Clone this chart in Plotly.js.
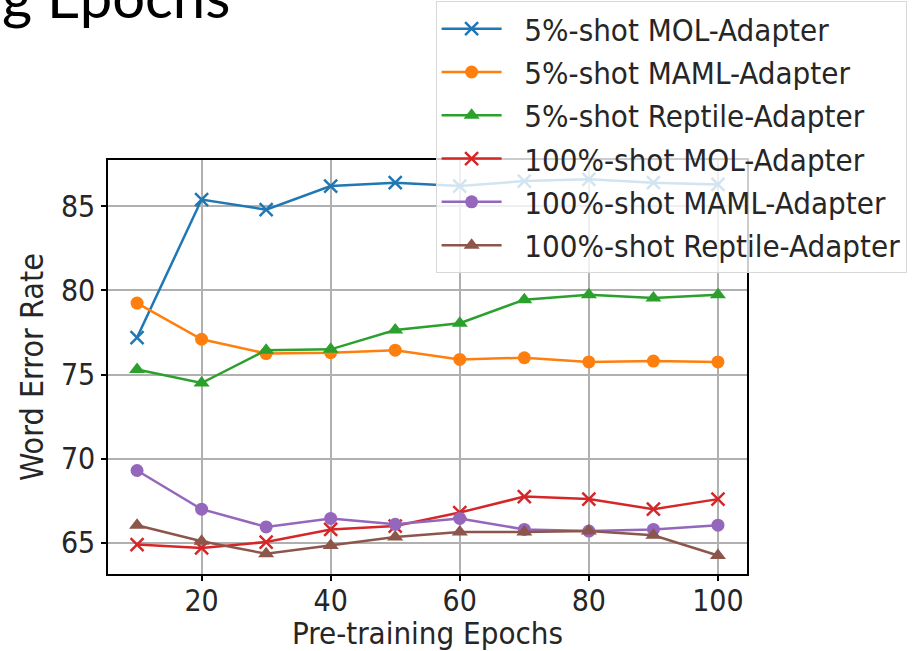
<!DOCTYPE html>
<html>
<head>
<meta charset="utf-8">
<script src="https://cdn.plot.ly/plotly-3.0.1.min.js"></script>
<style>html,body{margin:0;padding:0;background:#fff;}#chart{width:915px;height:651px;}</style>
</head>
<body>
<div id="chart"></div>
<script>
const epochs = [10, 20, 30, 40, 50, 60, 70, 80, 90, 100];
const mol5 = [77.2, 85.4, 84.8, 86.2, 86.4, 86.2, 86.5, 86.6, 86.4, 86.3];
const maml5 = [79.25, 77.1, 76.25, 76.3, 76.45, 75.9, 76.0, 75.75, 75.8, 75.75];
const reptile5 = [75.3, 74.5, 76.45, 76.5, 77.65, 78.05, 79.45, 79.75, 79.55, 79.75];
const mol100 = [64.9, 64.7, 65.05, 65.8, 66.0, 66.8, 67.75, 67.6, 67.0, 67.6];
const maml100 = [69.3, 67.0, 65.95, 66.45, 66.1, 66.45, 65.8, 65.7, 65.8, 66.05];
const reptile100 = [66.05, 65.1, 64.35, 64.85, 65.35, 65.65, 65.65, 65.7, 65.45, 64.25];
const names = ["5%-shot MOL-Adapter", "5%-shot MAML-Adapter", "5%-shot Reptile-Adapter",
               "100%-shot MOL-Adapter", "100%-shot MAML-Adapter", "100%-shot Reptile-Adapter"];
const xTicks = [20, 40, 60, 80, 100];
const yTicks = [65, 70, 75, 80, 85];

const series = [mol5, maml5, reptile5, mol100, maml100, reptile100];
const colors = ["#1f77b4", "#ff7f0e", "#2ca02c", "#d62728", "#9467bd", "#8c564b"];
const symbols = ["x-thin-open", "circle", "triangle-up", "x-thin-open", "circle", "triangle-up"];
const sizes = [13, 13, 14, 13, 13, 14];
const FONT = "'DejaVu Sans Condensed', 'DejaVu Sans', sans-serif";

const traces = series.map((ys, i) => ({
  x: epochs, y: ys, name: "\u00a0\u00a0" + names[i], type: "scatter", mode: "lines+markers",
  legendgroup: "g" + i,
  line: {color: colors[i], width: 2.5},
  marker: {symbol: symbols[i], size: sizes[i], color: colors[i],
           line: {color: colors[i], width: symbols[i].startsWith("x") ? 2.5 : 0}}
}));

const layout = {
  width: 915, height: 651,
  margin: {l: 108, r: 168, t: 160, b: 77, autoexpand: false},
  paper_bgcolor: "#fff", plot_bgcolor: "#fff",
  font: {family: FONT, color: "#262626"},
  showlegend: true,
  legend: {
    x: 0.5127, y: 1.384, xanchor: "left", yanchor: "top",
    bgcolor: "rgba(255,255,255,0.8)", bordercolor: "#d8d8d8", borderwidth: 1,
    font: {size: 31, family: FONT, color: "#262626"},
    tracegroupgap: 3, itemwidth: 60, traceorder: "normal"
  },
  xaxis: {
    range: [5.5, 104.5], tickvals: xTicks, ticktext: xTicks.map(String),
    showgrid: true, gridcolor: "#b0b0b0", gridwidth: 1.5,
    showline: true, linecolor: "#000", linewidth: 1.5, mirror: true,
    ticks: "outside", ticklen: 5, tickwidth: 1.5, tickcolor: "#000",
    tickfont: {size: 30}, zeroline: false, ticklabelstandoff: -6,
    title: {text: "Pre-training Epochs", font: {size: 31}, standoff: 9}
  },
  yaxis: {
    range: [63.15, 87.75], tickvals: yTicks, ticktext: yTicks.map(String),
    showgrid: true, gridcolor: "#b0b0b0", gridwidth: 1.5,
    showline: true, linecolor: "#000", linewidth: 1.5, mirror: true,
    ticks: "outside", ticklen: 5, tickwidth: 1.5, tickcolor: "#000",
    tickfont: {size: 30}, zeroline: false,
    title: {text: "Word Error Rate", font: {size: 32}, standoff: 8}
  },
  annotations: [{
    text: "g Epochs", xref: "paper", yref: "paper",
    x: -108/638, y: 1 + 160/414, xanchor: "left", yanchor: "top",
    yshift: 41, showarrow: false,
    font: {family: "Lato", size: 58, color: "#000"}
  }]
};

Plotly.newPlot("chart", traces, layout, {displayModeBar: false});
</script>
</body>
</html>
